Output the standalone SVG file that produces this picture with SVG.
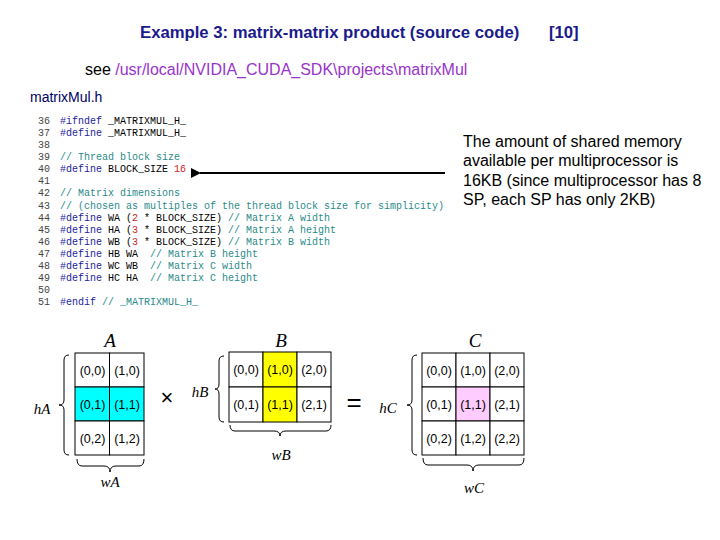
<svg xmlns="http://www.w3.org/2000/svg" width="720" height="540" viewBox="0 0 720 540">
<defs>
<style>
.title{font-family:"Liberation Sans",Arial,sans-serif;font-size:16.7px;font-weight:bold;fill:#1a1a8c}
.sans{font-family:"Liberation Sans",Arial,sans-serif;font-size:16px;fill:#000}
.path{fill:#9933cc}
.hdr{font-family:"Liberation Sans",Arial,sans-serif;font-size:14px;fill:#000066}
.code{font-family:"Liberation Mono","Courier New",monospace;font-size:10px;fill:#000;white-space:pre}
.ln{fill:#444}
.kw{fill:#1c1c9c}
.cm{fill:#2a8a8a}
.num{fill:#cc2222}
.cell{fill:#fff;stroke:#000;stroke-width:1}
.ct{font-family:"Liberation Sans",Arial,sans-serif;font-size:12.5px;fill:#000;text-anchor:middle}
.mlab{font-family:"Liberation Serif","Times New Roman",serif;font-style:italic;font-size:19px;fill:#000;text-anchor:middle}
.dlab{font-family:"Liberation Serif","Times New Roman",serif;font-style:italic;font-size:15px;fill:#000;text-anchor:middle}
.brace{fill:none;stroke:#000;stroke-width:1}
.op{font-family:"Liberation Sans",Arial,sans-serif;fill:#000;text-anchor:middle}
</style>
<marker id="ah" viewBox="0 0 10 10" refX="1" refY="5" markerWidth="5" markerHeight="5" orient="auto-start-reverse">
<path d="M0,5 L10,0 L10,10 Z" fill="#000"/>
</marker>
</defs>
<rect width="720" height="540" fill="#fff"/>

<g id="title">
<text class="title" x="140" y="38">Example 3: matrix-matrix product (source code)</text>
<text class="title" x="549" y="38">[10]</text>
</g>
<g id="see">
<text class="sans" x="85" y="75">see <tspan class="path">/usr/local/NVIDIA_CUDA_SDK\projects\matrixMul</tspan></text>
</g>
<g id="header">
<text class="hdr" x="30" y="102">matrixMul.h</text>
</g>

<g id="code" xml:space="preserve">
<text class="code" x="38" y="124"><tspan class="ln">36</tspan></text>
<text class="code" x="60" y="124"><tspan class="kw">#ifndef</tspan> _MATRIXMUL_H_</text>
<text class="code" x="38" y="136"><tspan class="ln">37</tspan></text>
<text class="code" x="60" y="136"><tspan class="kw">#define</tspan> _MATRIXMUL_H_</text>
<text class="code" x="38" y="148"><tspan class="ln">38</tspan></text>
<text class="code" x="38" y="160"><tspan class="ln">39</tspan></text>
<text class="code" x="60" y="160"><tspan class="cm">// Thread block size</tspan></text>
<text class="code" x="38" y="172"><tspan class="ln">40</tspan></text>
<text class="code" x="60" y="172"><tspan class="kw">#define</tspan> BLOCK_SIZE <tspan class="num">16</tspan></text>
<text class="code" x="38" y="184"><tspan class="ln">41</tspan></text>
<text class="code" x="38" y="196"><tspan class="ln">42</tspan></text>
<text class="code" x="60" y="196"><tspan class="cm">// Matrix dimensions</tspan></text>
<text class="code" x="38" y="209"><tspan class="ln">43</tspan></text>
<text class="code" x="60" y="209"><tspan class="cm">// (chosen as multiples of the thread block size for simplicity)</tspan></text>
<text class="code" x="38" y="221"><tspan class="ln">44</tspan></text>
<text class="code" x="60" y="221"><tspan class="kw">#define</tspan> WA (<tspan class="num">2</tspan> * BLOCK_SIZE) <tspan class="cm">// Matrix A width</tspan></text>
<text class="code" x="38" y="233"><tspan class="ln">45</tspan></text>
<text class="code" x="60" y="233"><tspan class="kw">#define</tspan> HA (<tspan class="num">3</tspan> * BLOCK_SIZE) <tspan class="cm">// Matrix A height</tspan></text>
<text class="code" x="38" y="245"><tspan class="ln">46</tspan></text>
<text class="code" x="60" y="245"><tspan class="kw">#define</tspan> WB (<tspan class="num">3</tspan> * BLOCK_SIZE) <tspan class="cm">// Matrix B width</tspan></text>
<text class="code" x="38" y="257"><tspan class="ln">47</tspan></text>
<text class="code" x="60" y="257"><tspan class="kw">#define</tspan> HB WA  <tspan class="cm">// Matrix B height</tspan></text>
<text class="code" x="38" y="269"><tspan class="ln">48</tspan></text>
<text class="code" x="60" y="269"><tspan class="kw">#define</tspan> WC WB  <tspan class="cm">// Matrix C width</tspan></text>
<text class="code" x="38" y="281"><tspan class="ln">49</tspan></text>
<text class="code" x="60" y="281"><tspan class="kw">#define</tspan> HC HA  <tspan class="cm">// Matrix C height</tspan></text>
<text class="code" x="38" y="293"><tspan class="ln">50</tspan></text>
<text class="code" x="38" y="305"><tspan class="ln">51</tspan></text>
<text class="code" x="60" y="305"><tspan class="kw">#endif</tspan> <tspan class="cm">// _MATRIXMUL_H_</tspan></text>
</g>

<g id="note">
<text class="sans" x="463" y="147">The amount of shared memory</text>
<text class="sans" x="463" y="166">available per multiprocessor is</text>
<text class="sans" x="463" y="186">16KB (since multiprocessor has 8</text>
<text class="sans" x="463" y="205">SP, each SP has only 2KB)</text>
</g>

<g id="connectors">
<line x1="445" y1="173" x2="200" y2="173" stroke="#000" stroke-width="2" marker-end="url(#ah)"/>
</g>

<g id="matrixA">
<text class="mlab" x="110" y="347">A</text>
<rect class="cell" x="75" y="353" width="34.5" height="34"/>
<rect class="cell" x="109.5" y="353" width="34.5" height="34"/>
<rect class="cell" x="75" y="387" width="34.5" height="34" style="fill:#00ffff"/>
<rect class="cell" x="109.5" y="387" width="34.5" height="34" style="fill:#00ffff"/>
<rect class="cell" x="75" y="421" width="34.5" height="34"/>
<rect class="cell" x="109.5" y="421" width="34.5" height="34"/>
<text class="ct" x="92.5" y="375">(0,0)</text>
<text class="ct" x="127" y="375">(1,0)</text>
<text class="ct" x="92.5" y="409">(0,1)</text>
<text class="ct" x="127" y="409">(1,1)</text>
<text class="ct" x="92.5" y="443">(0,2)</text>
<text class="ct" x="127" y="443">(1,2)</text>
<path class="brace" d="M69,355 Q64,355 64,360 L64,400 Q64,405 59,405 Q64,405 64,410 L64,450 Q64,455 69,455"/>
<text class="dlab" x="42" y="414">hA</text>
<path class="brace" d="M77,459 Q77,466 82,466 L104,466 Q110,466 110,472 Q110,466 116,466 L139,466 Q144,466 144,459"/>
<text class="dlab" x="110" y="487">wA</text>
</g>

<g id="times">
<text class="op" x="167" y="405" font-size="22">×</text>
</g>

<g id="matrixB">
<text class="mlab" x="281" y="347">B</text>
<rect class="cell" x="229" y="352" width="34" height="35"/>
<rect class="cell" x="263" y="352" width="34" height="35" style="fill:#ffff00"/>
<rect class="cell" x="297" y="352" width="34" height="35"/>
<rect class="cell" x="229" y="387" width="34" height="35"/>
<rect class="cell" x="263" y="387" width="34" height="35" style="fill:#ffff00"/>
<rect class="cell" x="297" y="387" width="34" height="35"/>
<text class="ct" x="246" y="374">(0,0)</text>
<text class="ct" x="280" y="374">(1,0)</text>
<text class="ct" x="314" y="374">(2,0)</text>
<text class="ct" x="246" y="409">(0,1)</text>
<text class="ct" x="280" y="409">(1,1)</text>
<text class="ct" x="314" y="409">(2,1)</text>
<path class="brace" d="M224,356 Q219,356 219,361 L219,384 Q219,389 215,389 Q219,389 219,394 L219,417 Q219,422 224,422"/>
<text class="dlab" x="200" y="397">hB</text>
<path class="brace" d="M230,425 Q230,431 235,431 L274,431 Q280,431 280,436 Q280,431 286,431 L326,431 Q331,431 331,425"/>
<text class="dlab" x="281" y="460">wB</text>
</g>

<g id="equals">
<text class="op" x="354" y="411" font-size="26">=</text>
</g>

<g id="matrixC">
<text class="mlab" x="475" y="347">C</text>
<rect class="cell" x="422" y="353" width="34" height="34"/>
<rect class="cell" x="456" y="353" width="34" height="34"/>
<rect class="cell" x="490" y="353" width="34" height="34"/>
<rect class="cell" x="422" y="387" width="34" height="34"/>
<rect class="cell" x="456" y="387" width="34" height="34" style="fill:#ffccff"/>
<rect class="cell" x="490" y="387" width="34" height="34"/>
<rect class="cell" x="422" y="421" width="34" height="34"/>
<rect class="cell" x="456" y="421" width="34" height="34"/>
<rect class="cell" x="490" y="421" width="34" height="34"/>
<text class="ct" x="439" y="375">(0,0)</text>
<text class="ct" x="473" y="375">(1,0)</text>
<text class="ct" x="507" y="375">(2,0)</text>
<text class="ct" x="439" y="409">(0,1)</text>
<text class="ct" x="473" y="409">(1,1)</text>
<text class="ct" x="507" y="409">(2,1)</text>
<text class="ct" x="439" y="443">(0,2)</text>
<text class="ct" x="473" y="443">(1,2)</text>
<text class="ct" x="507" y="443">(2,2)</text>
<path class="brace" d="M417,355 Q412,355 412,360 L412,400 Q412,405 407,405 Q412,405 412,410 L412,450 Q412,455 417,455"/>
<text class="dlab" x="388" y="413">hC</text>
<path class="brace" d="M423,458 Q423,465 428,465 L467,465 Q473,465 473,471 Q473,465 479,465 L519,465 Q524,465 524,458"/>
<text class="dlab" x="474" y="493">wC</text>
</g>
</svg>
